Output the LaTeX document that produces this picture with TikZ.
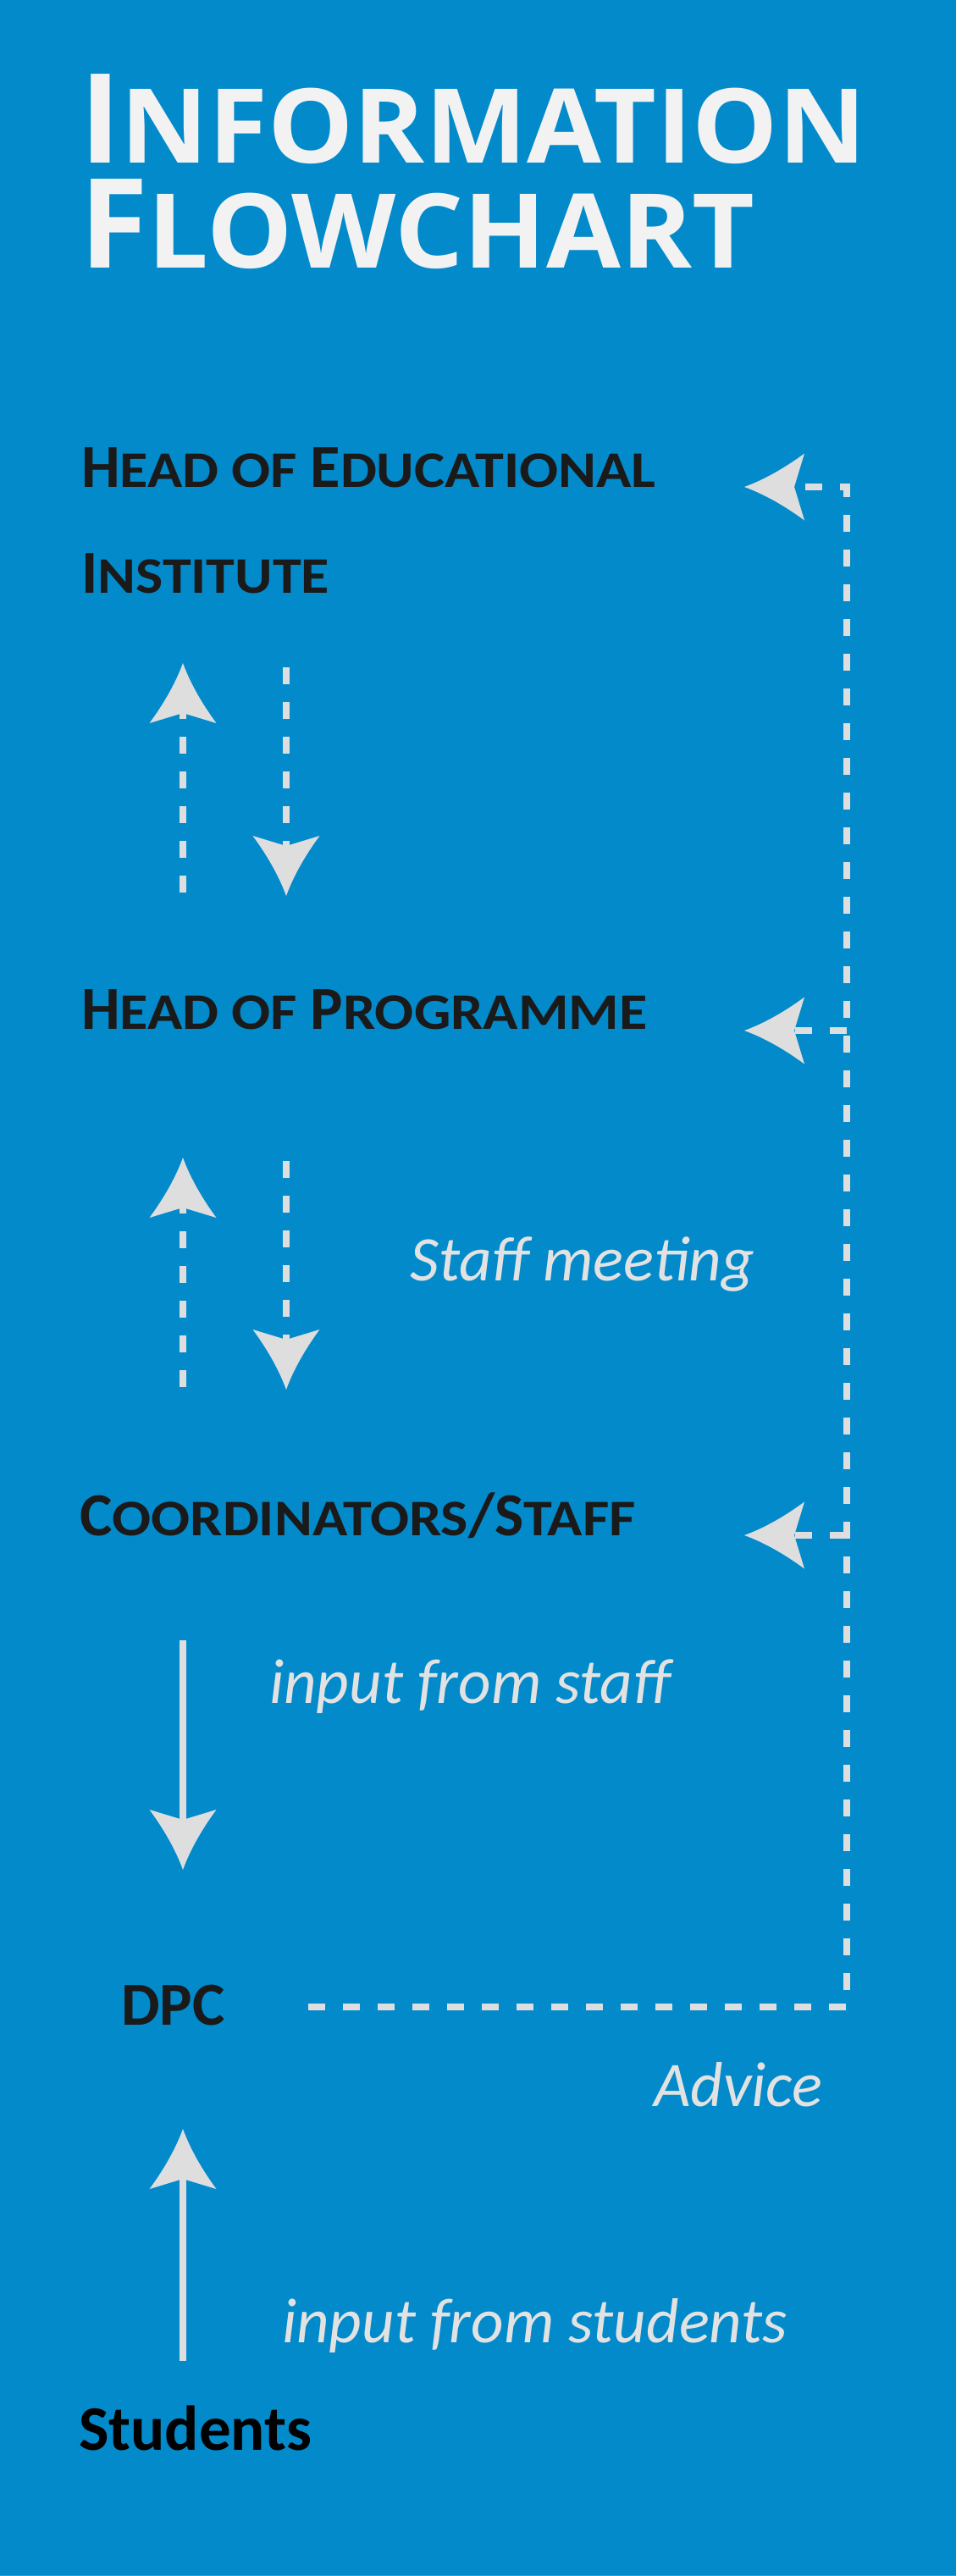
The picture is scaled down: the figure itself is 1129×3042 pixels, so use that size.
\documentclass[tikz,border=0pt]{standalone}
\usepackage{fontspec}
\setmainfont{Carlito}
\newfontfamily\titlefont{Open Sans}
\newfontfamily\titlesmfont{Open Sans}[FakeStretch=1.045]
\newfontfamily\scfont{Carlito}[FakeStretch=1.125]
\usetikzlibrary{arrows.meta}

\definecolor{bgblue}{RGB}{2,138,203}
\definecolor{stripblue}{RGB}{40,160,220}
\definecolor{titlecol}{HTML}{F2F2F2}
\definecolor{labelcol}{HTML}{1A1A1A}
\definecolor{notecol}{HTML}{E2E2E2}
\definecolor{arrowcol}{HTML}{DEDEDE}

\pgfdeclarearrow{
  name = Flech,
  setup code = {
    \pgfarrowssettipend{0pt}
    \pgfarrowssetlineend{-58pt}
    \pgfarrowssetbackend{-71pt}
    \pgfarrowshullpoint{0pt}{0pt}
    \pgfarrowshullpoint{-71pt}{39.5pt}
    \pgfarrowshullpoint{-71pt}{-39.5pt}
  },
  drawing code = {
    \pgfpathmoveto{\pgfpointorigin}
    \pgfpathcurveto{\pgfpoint{-25pt}{9pt}}{\pgfpoint{-50pt}{24pt}}{\pgfpoint{-71pt}{39.5pt}}
    \pgfpathlineto{\pgfpoint{-59pt}{0pt}}
    \pgfpathlineto{\pgfpoint{-71pt}{-39.5pt}}
    \pgfpathcurveto{\pgfpoint{-50pt}{-24pt}}{\pgfpoint{-25pt}{-9pt}}{\pgfpointorigin}
    \pgfpathclose
    \pgfusepathqfill
  }
}

\newcommand\TBig{\titlefont\bfseries\fontsize{147}{150}\selectfont}
\newcommand\TSm{\titlesmfont\bfseries\fontsize{122}{150}\selectfont}
\newcommand\LabBig{\bfseries\fontsize{72.3}{80}\selectfont}
\newcommand\LabSm{\scfont\bfseries\fontsize{60.6}{80}\selectfont}
\newcommand\lab[2]{{\LabBig #1}{\LabSm #2}}
\newcommand\itl{\itshape\fontsize{75}{80}\selectfont}

\begin{document}
\begin{tikzpicture}[x=1pt,y=-1pt,
  ttl/.style={anchor=base west, inner sep=0pt, text=titlecol},
  lbl/.style={anchor=base west, inner sep=0pt, text=labelcol},
  note/.style={anchor=base west, inner sep=0pt, text=notecol, font=\itl},
  conn/.style={color=arrowcol, line width=8pt, line cap=butt},
  dashconn/.style={conn, dash pattern=on 20pt off 21pt},
  tipped/.style={-Flech}
]
% background
\fill[bgblue] (0,0) rectangle (1129,3042);
\fill[stripblue] (0,3040.5) rectangle (1129,3042);
\useasboundingbox (0,0) rectangle (1129,3042);

% title
\node[ttl] (t1) at (94,192) {\TBig I\TSm NFORMATION};
\node[ttl] (t2) at (94,316) {\TBig F\TSm LOWCHART};

% nodes
\node[lbl] (hoe) at (96,575) {\lab{H}{EAD OF }\lab{E}{DUCATIONAL}};
\node[lbl] (hoe2) at (96,700) {\lab{I}{NSTITUTE}};
\node[lbl] (hop) at (96,1215) {\lab{H}{EAD OF }\lab{P}{ROGRAMME}};
\node[lbl] (coord) at (94,1813) {\lab{C}{OORDINATORS}{\LabBig/}\lab{S}{TAFF}};
\node[lbl] (dpc) at (143,2391) {\LabBig DPC};
\node[lbl, text=black] (stu) at (93,2893) {\bfseries\fontsize{75}{80}\selectfont Students};

% notes
\node[note] (nmeet) at (484,1512) {Staff meeting};
\node[note] (nstaff) at (318,2011) {input from staff};
\node[note] (nadv) at (772,2487) {Advice};
\node[note] (nstu) at (333,2766) {input from students};

% connector end points
\coordinate (a1s) at (216,1054); \coordinate (a1e) at (216,783);
\coordinate (a2s) at (338,788);  \coordinate (a2e) at (338,1058);
\coordinate (a3s) at (216,1638); \coordinate (a3e) at (216,1367);
\coordinate (a4s) at (338,1371); \coordinate (a4e) at (338,1641);
\coordinate (a5s) at (216,1937); \coordinate (a5e) at (216,2208);
\coordinate (a6s) at (216,2788); \coordinate (a6e) at (216,2514);
\coordinate (fbs) at (364,2370);
\coordinate (fbc) at (1000,2370);
\coordinate (jE) at (1000,575);
\coordinate (jP) at (1000,1217);
\coordinate (jC) at (1000,1813);
\coordinate (tE) at (879,575);
\coordinate (tP) at (879,1217);
\coordinate (tC) at (879,1813);

% vertical arrows
\draw[dashconn, tipped] (a1s) -- (a1e);
\draw[dashconn, tipped] (a2s) -- (a2e);
\draw[dashconn, tipped] (a3s) -- (a3e);
\draw[dashconn, tipped] (a4s) -- (a4e);
\draw[conn, tipped] (a5s) -- (a5e);
\draw[conn, tipped] (a6s) -- (a6e);

% feedback (advice) lines
\draw[dashconn, tipped] (fbs) -- (fbc) -- (jE) -- (tE);
\draw[dashconn, tipped] (jP) -- (tP);
\draw[dashconn, tipped] (jC) -- (tC);
\end{tikzpicture}
\end{document}
